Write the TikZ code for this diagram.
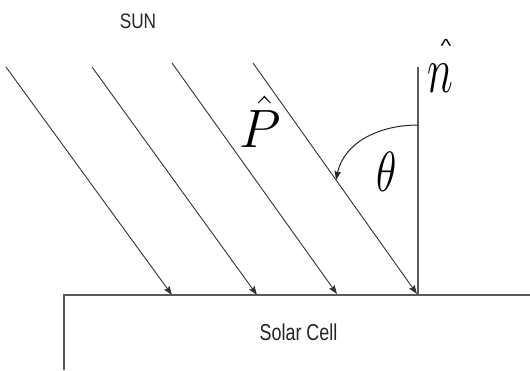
\RequirePackage{fix-cm}
\documentclass[tikz,border=0pt]{standalone}
\usepackage{fontspec}
\newfontfamily\labelfont{Liberation Sans}
\usetikzlibrary{arrows.meta}
\begin{document}
\begin{tikzpicture}[x=1pt,y=-1pt,
  ray/.style={draw=black!80, line width=0.9pt, -{Stealth[length=9pt,width=6.5pt,inset=1.5pt]}},
  normalline/.style={draw=black!65, line width=1.4pt},
  cellline/.style={draw=black!65, line width=2pt},
  arcarrow/.style={draw=black!85, line width=1pt, -{Stealth[length=9pt,width=6.5pt,inset=1.5pt]}},
  sanslabel/.style={inner sep=0pt, text=black!85},
  mathlabel/.style={inner sep=0pt}]
\useasboundingbox (0,0) rectangle (530,370);
\fill[white] (0,0) rectangle (530,370);
% rays
\coordinate (r1s) at (6,67);   \coordinate (r1e) at (172,295);
\coordinate (r2s) at (92,67);  \coordinate (r2e) at (257,295);
\coordinate (r3s) at (172,63); \coordinate (r3e) at (337,294);
\coordinate (r4s) at (253,63); \coordinate (r4e) at (417,294);
% normal
\coordinate (nb) at (418,294); \coordinate (nt) at (418,67);
\coordinate (arcs) at (418,125); \coordinate (arce) at (336,180);
% cell
\coordinate (cr) at (530,295); \coordinate (cl) at (64,295); \coordinate (cb) at (64,370);
\draw[cellline] (cr) -- (cl) -- (cb);
\draw[normalline] (nb) -- (nt);
\draw[ray] (r1s) -- (r1e);
\draw[ray] (r2s) -- (r2e);
\draw[ray] (r3s) -- (r3e);
\draw[ray] (r4s) -- (r4e);
\draw[arcarrow] (arcs) to[out=180,in=78] (arce);
% labels
\node[sanslabel] (sun) at (138,21) {\scalebox{0.82}[1]{\labelfont\fontsize{21}{21}\selectfont SUN}};
\node[sanslabel] (cell) at (298.5,332.5) {\scalebox{0.78}[1]{\labelfont\fontsize{23}{23}\selectfont Solar Cell}};
\node[mathlabel] (P) at (260,122) {\fontsize{54}{54}\selectfont$\hat{P}$};
\node[mathlabel] (theta) at (386.5,172) {\scalebox{1}[1.35]{\fontsize{42}{42}\selectfont$\theta$}};
\node[mathlabel] (n) at (440,78) {\scalebox{1}[1.5]{\fontsize{44}{44}\selectfont$n$}};
\node[mathlabel, anchor=base, text height=6pt, text depth=0pt] (nhat) at (446,52.7) {\scalebox{1.2}[1]{\labelfont\fontsize{19}{19}\selectfont\textasciicircum}};
\end{tikzpicture}
\end{document}
